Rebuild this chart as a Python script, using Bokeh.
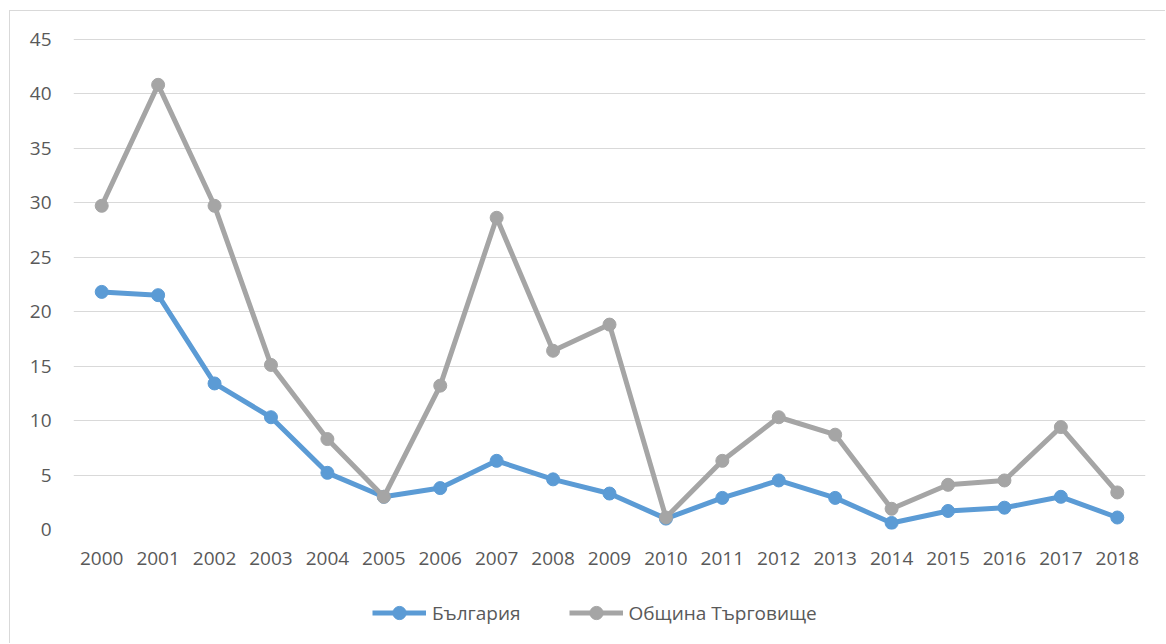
from bokeh.plotting import figure
from bokeh.layouts import column
from bokeh.models import Legend, LegendItem, FactorRange, Range1d, SingleIntervalTicker
from bokeh.embed import file_html
from bokeh.resources import INLINE

years = [str(y) for y in range(2000, 2019)]
bulgaria = [21.8, 21.5, 13.4, 10.3, 5.2, 3.0, 3.8, 6.3, 4.6, 3.3, 1.0, 2.9, 4.5, 2.9, 0.6, 1.7, 2.0, 3.0, 1.1]
targovishte = [29.7, 40.8, 29.7, 15.1, 8.3, 3.0, 13.2, 28.6, 16.4, 18.8, 1.1, 6.3, 10.3, 8.7, 1.9, 4.1, 4.5, 9.4, 3.4]
series_names = ["България", "Община Търговище"]
colors = ["#5B9BD5", "#A5A5A5"]

FONT = "Open Sans"
TXT = "#595959"
W = 1156

p = figure(width=W, height=568, x_range=FactorRange(*years, range_padding=0),
           y_range=Range1d(0, 45.05), output_backend="svg", toolbar_location=None,
           min_border_left=63, min_border_top=27, min_border_right=21, min_border_bottom=50)
p.styles = {"border-left": "1px solid #d9d9d9", "border-top": "1px solid #d9d9d9"}
p.outline_line_color = None
p.background_fill_color = "white"
p.border_fill_color = "white"

p.yaxis.ticker = SingleIntervalTicker(interval=5)
p.ygrid.ticker = SingleIntervalTicker(interval=5)
p.ygrid.grid_line_color = "#d9d9d9"
p.ygrid.grid_line_width = 1
p.xgrid.grid_line_color = None

for ax in (p.xaxis, p.yaxis):
    ax.axis_line_color = None
    ax.major_tick_line_color = None
    ax.minor_tick_line_color = None
    ax.major_tick_out = 0
    ax.major_tick_in = 0
    ax.major_label_text_font = FONT
    ax.major_label_text_font_size = "19px"
    ax.major_label_text_color = TXT
p.yaxis.major_label_standoff = 18
p.xaxis.major_label_standoff = 22

for vals, c in zip([bulgaria, targovishte], colors):
    p.line(years, vals, line_color=c, line_width=5)
    p.scatter(years, vals, size=13, fill_color=c, line_color=c)

# legend strip below the chart (proxy glyphs placed outside the visible range)
lf = figure(width=W, height=65, x_range=Range1d(0, 1), y_range=Range1d(0, 1),
            output_backend="svg", toolbar_location=None,
            x_axis_location=None, y_axis_location=None, min_border=0)
lf.styles = {"border-left": "1px solid #d9d9d9"}
lf.outline_line_color = None
lf.xgrid.grid_line_color = None
lf.ygrid.grid_line_color = None
items = []
for name, c in zip(series_names, colors):
    r1 = lf.line([-5, -4], [-5, -4], line_color=c, line_width=5)
    r2 = lf.scatter([-5], [-5], size=13, fill_color=c, line_color=c)
    items.append(LegendItem(label=name, renderers=[r1, r2]))
legend = Legend(items=items, orientation="horizontal", location=(299, 14),
                glyph_width=54, glyph_height=33, label_standoff=6, spacing=48,
                label_text_font=FONT, label_text_font_size="19px", label_text_color=TXT,
                border_line_color=None, background_fill_alpha=0, margin=0, padding=0)
lf.add_layout(legend)

layout = column(p, lf, spacing=0, margin=(10, 0, 0, 9))
open("out.html", "w").write(file_html(layout, INLINE))
